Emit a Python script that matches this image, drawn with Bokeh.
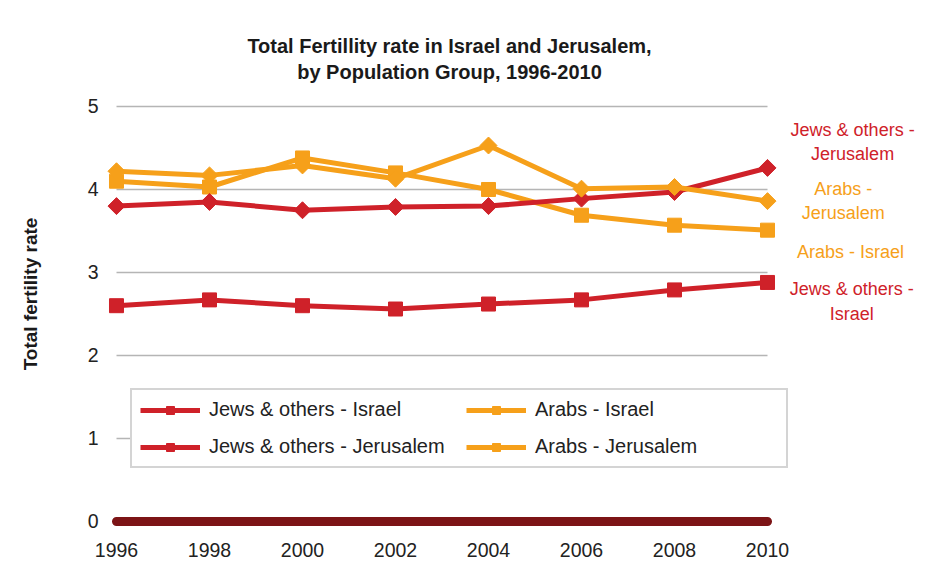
import math
from bokeh.plotting import figure
from bokeh.models import Legend, LegendItem, Label, FixedTicker, Range1d
from bokeh.embed import file_html
from bokeh.resources import INLINE

years = [1996, 1998, 2000, 2002, 2004, 2006, 2008, 2010]
jews_israel = [2.60, 2.67, 2.60, 2.56, 2.62, 2.67, 2.79, 2.88]
arabs_israel = [4.10, 4.03, 4.38, 4.20, 4.00, 3.69, 3.57, 3.51]
jews_jerusalem = [3.80, 3.85, 3.75, 3.79, 3.80, 3.89, 3.97, 4.26]
arabs_jerusalem = [4.22, 4.17, 4.29, 4.13, 4.53, 4.01, 4.03, 3.86]
baseline = [0, 0, 0, 0, 0, 0, 0, 0]
y_ticks = [0, 1, 2, 3, 4, 5]
grid_levels = [1, 2, 3, 4, 5]

title_text = "Total Fertillity rate in Israel and Jerusalem,\nby Population Group, 1996-2010"
y_label_text = "Total fertility rate"

RED = "#cf2129"
ORANGE = "#f6a01a"
DARKRED = "#7c1416"
FONT = "Liberation Sans"

p = figure(width=930, height=570, output_backend="svg", toolbar_location=None,
           x_range=Range1d(1995.785, 2013.505), y_range=Range1d(-0.3976, 5.8795),
           min_border_left=106, min_border_right=0, min_border_top=33, min_border_bottom=16)
p.outline_line_color = None
p.xgrid.visible = False
p.ygrid.visible = False

for ax in (p.xaxis[0], p.yaxis[0]):
    ax.axis_line_color = None
    ax.major_tick_line_color = None
    ax.minor_tick_line_color = None
    ax.major_label_text_font = FONT
    ax.major_label_text_font_size = "19.5px"
    ax.major_label_text_color = "#222222"
p.xaxis[0].ticker = FixedTicker(ticks=years)
p.yaxis[0].ticker = FixedTicker(ticks=y_ticks)
p.xaxis[0].major_label_standoff = -18
p.yaxis[0].major_label_standoff = 2
p.yaxis[0].axis_label = y_label_text
p.yaxis[0].axis_label_text_font = FONT
p.yaxis[0].axis_label_text_font_size = "19px"
p.yaxis[0].axis_label_text_font_style = "bold"
p.yaxis[0].axis_label_text_color = "#1a1a1a"
p.yaxis[0].axis_label_standoff = 44

# gridlines between first and last year
p.segment(x0=[years[0]] * len(grid_levels), x1=[years[-1]] * len(grid_levels),
          y0=grid_levels, y1=grid_levels, line_color="#b5b5b5", line_width=1.5)

p.line(years, baseline, line_color=DARKRED, line_width=9, line_cap="round")

def series(y, color, diamond):
    ln = p.line(years, y, line_color=color, line_width=5, line_join="round")
    if diamond:
        sc = p.scatter(years, y, marker="square", size=12, angle=math.pi / 4,
                       fill_color=color, line_color=color)
    else:
        sc = p.scatter(years, y, marker="square", size=14, fill_color=color, line_color=color)
    return [ln, sc]

r_ji = series(jews_israel, RED, False)
r_ai = series(arabs_israel, ORANGE, False)
r_jj = series(jews_jerusalem, RED, True)
r_aj = series(arabs_jerusalem, ORANGE, True)

legend = Legend(items=[
    LegendItem(label="Jews & others - Israel", renderers=r_ji),
    LegendItem(label="Jews & others - Jerusalem", renderers=r_jj),
    LegendItem(label="Arabs - Israel", renderers=r_ai),
    LegendItem(label="Arabs - Jerusalem", renderers=r_aj),
], location=(24, 86), ncols=2)
legend.label_text_font = FONT
legend.label_text_font_size = "20px"
legend.label_text_color = "#222222"
legend.border_line_color = "#aaaaaa"
legend.border_line_width = 2
legend.background_fill_color = "white"
legend.background_fill_alpha = 1
legend.glyph_width = 60
legend.glyph_height = 20
legend.label_height = 20
legend.label_width = 243
legend.label_standoff = 9
legend.spacing = 14
legend.padding = 8
legend.margin = 0
p.add_layout(legend)

p.add_layout(Label(x=2003.161, y=5.572, text=title_text, text_font=FONT,
                   text_font_size="20px", text_font_style="bold", text_color="#1a1a1a",
                   text_align="center", text_baseline="middle", text_line_height=1.17))

for txt, x, y, col in [("Jews & others -\nJerusalem", 2011.83, 4.572, RED),
                       ("Arabs -\nJerusalem", 2011.63, 3.861, ORANGE),
                       ("Arabs - Israel", 2011.785, 3.241, ORANGE),
                       ("Jews & others -\nIsrael", 2011.81, 2.651, RED)]:
    p.add_layout(Label(x=x, y=y, text=txt, text_font=FONT, text_font_size="18px",
                       text_color=col, text_align="center", text_baseline="middle",
                       text_line_height=1.22))

open("out.html", "w").write(file_html(p, INLINE))
